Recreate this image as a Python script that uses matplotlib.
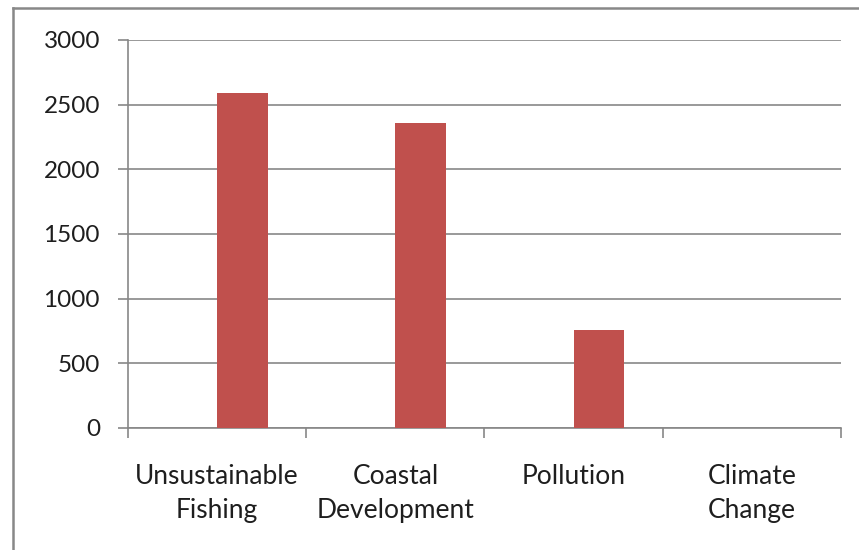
import matplotlib
matplotlib.use("Agg")
import matplotlib.pyplot as plt
from matplotlib.lines import Line2D

categories = ["Unsustainable\nFishing", "Coastal\nDevelopment", "Pollution", "Climate\nChange"]
values = [2590, 2355, 760, 0]
yticks = [0, 500, 1000, 1500, 2000, 2500, 3000]

plt.rcParams['font.family'] = ['Lato', 'DejaVu Sans']

fig = plt.figure(figsize=(8.59, 5.5), dpi=100)
ax = fig.add_axes([128/859, 1-428/550, (841-128)/859, (428-40)/550])

x = list(range(len(categories)))
ax.bar(x, values, width=0.285, align='edge', color='#C0504D', zorder=3)

ax.set_xlim(-0.5, len(categories) - 0.5)
ax.set_ylim(0, 3000)
ax.set_yticks(yticks)
ax.set_yticklabels([str(v) for v in yticks])
ax.yaxis.grid(True, color='#878787', linewidth=1.2, zorder=0)
ax.set_axisbelow(True)

ax.set_xticks([i - 0.5 for i in range(len(categories) + 1)])
ax.set_xticklabels([])
ax.set_xticks(x, minor=True)
ax.set_xticklabels(categories, minor=True, linespacing=1.45)
ax.tick_params(axis='x', which='minor', length=0, pad=26, labelsize=19, labelcolor='#1e1e1e')
ax.tick_params(axis='x', which='major', length=7.2, width=1.2, color='#878787')
ax.tick_params(axis='y', length=7.2, width=1.2, color='#878787', pad=13, labelsize=17.5, labelcolor='#1e1e1e')

for s in ['top', 'right']:
    ax.spines[s].set_visible(False)
for s in ['left', 'bottom']:
    ax.spines[s].set_color('#878787')
    ax.spines[s].set_linewidth(1.2)

# outer chart border (left and top only visible)
fig.add_artist(Line2D([12.5/859, 12.5/859], [0, 1-8/550], transform=fig.transFigure, color='#888888', linewidth=1.8))
fig.add_artist(Line2D([12.5/859, 1], [1-8/550, 1-8/550], transform=fig.transFigure, color='#888888', linewidth=1.8))

fig.savefig("out.png", dpi=100)
